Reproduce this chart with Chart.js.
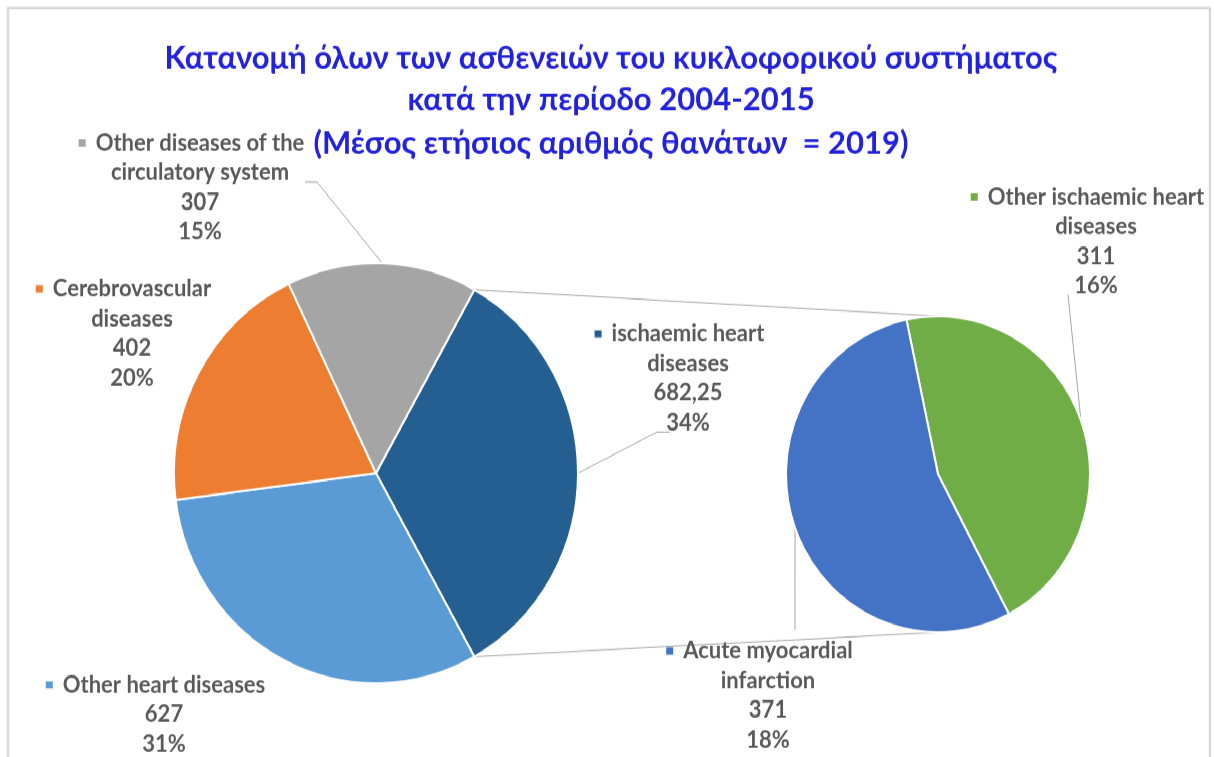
<!DOCTYPE html>
<html lang="el">
<head>
<meta charset="UTF-8">
<title>Κατανομή ασθενειών κυκλοφορικού</title>
<script src="https://cdn.jsdelivr.net/npm/chart.js"></script>
<style>
  html { overflow: hidden; }
  body { margin: 0; padding: 0; background: #fff; width: 1214px; height: 757px; }
  #page { position: relative; width: 1214px; height: 757px; overflow: hidden; }
  /* the reference is a slightly tall screenshot, so the whole drawing is stretched a little */
  #wrap { position: absolute; left: 0; top: 0; width: 1214px; height: 728px; transform: scale(1, 1.04); transform-origin: 0 0; }
  #wrap canvas { position: absolute; }
</style>
</head>
<body>
<div id="page">
<div id="wrap">
  <canvas id="frameChart" width="1214" height="728" style="left:0;top:0"></canvas>
  <canvas id="mainPie" width="406" height="406" style="left:173px;top:252px"></canvas>
  <canvas id="subPie" width="306" height="306" style="left:785px;top:303px"></canvas>
</div>
</div>
<script>
// ---- data ----
const titleLines = ['Κατανομή όλων των ασθενειών του κυκλοφορικού συστήματος', 'κατά την περίοδο 2004-2015'];
const subtitleLine = '(Μέσος ετήσιος αριθμός θανάτων  = 2019)';

const mainLabels = [['ischaemic heart', 'diseases'], ['Other heart diseases'], ['Cerebrovascular', 'diseases'], ['Other diseases of the', 'circulatory system']];
const mainValues = [682.25, 627, 402, 307];
const mainPercents = [34, 31, 20, 15];

const subLabels = [['Other ischaemic heart', 'diseases'], ['Acute myocardial', 'infarction']];
const subValues = [311, 371];
const subPercents = [16, 18];

// ---- styling ----
const mainColors = ['#255e91', '#5b9bd5', '#ed7d31', '#a5a5a5'];
const subColors = ['#70ad47', '#4472c4'];
const FONT = 'Lato, "Open Sans", sans-serif';
const TEXT_GREY = '#595959';
const LINE_GREY = '#a6a6a6';
const SY = 1.04;
const ry = y => y / SY;

// label anchors (reference pixels): centre x, first line y, leader start points
const mainLabelPos = [
  { cx: 688, y0: 334, leader: [[670, 432], [657, 432]] },
  { cx: 164, y0: 685, leader: null },
  { cx: 132, y0: 289, leader: null },
  { cx: 200, y0: 143, leader: [[305, 182], [317, 182]] }
];
const subLabelPos = [
  { cx: 1096, y0: 197, leader: [[1068, 295]] },
  { cx: 768, y0: 651, leader: [[795, 630]] }
];
const LINE_GAP = 29.7;

Chart.defaults.font.family = FONT;

function pieConfig(labels, values, colors, rotation) {
  return {
    type: 'pie',
    data: {
      labels: labels.map(l => l.join(' ')),
      datasets: [{ data: values, backgroundColor: colors, borderColor: '#ffffff', borderWidth: 2 }]
    },
    options: {
      responsive: false,
      animation: false,
      events: [],
      rotation: rotation,
      plugins: { legend: { display: false }, tooltip: { enabled: false }, title: { display: false } }
    }
  };
}

const mainTotal = mainValues.reduce((a, b) => a + b, 0);
// split slice centred on 3 o'clock
const mainRotation = 90 - (mainValues[0] / mainTotal) * 180;
const mainChart = new Chart(document.getElementById('mainPie'), pieConfig(mainLabels, mainValues, mainColors, mainRotation));
const subChart = new Chart(document.getElementById('subPie'), pieConfig(subLabels, subValues, subColors, -12));

function arcInfo(chart, idx, canvas) {
  const a = chart.getDatasetMeta(0).data[idx].getProps(['x', 'y', 'startAngle', 'endAngle', 'outerRadius'], true);
  return { x: a.x + canvas.offsetLeft, y: a.y + canvas.offsetTop, r: a.outerRadius, s: a.startAngle, e: a.endAngle };
}
function edge(info, angle) {
  return [info.x + info.r * Math.cos(angle), info.y + info.r * Math.sin(angle)];
}
function fmt(v) {
  return String(v).replace('.', ',');
}

function drawLabel(ctx, lines, color, pos, arc) {
  ctx.save();
  ctx.font = 'bold 22px ' + FONT;
  ctx.fillStyle = TEXT_GREY;
  ctx.textAlign = 'center';
  ctx.textBaseline = 'middle';
  lines.forEach((t, i) => ctx.fillText(t, pos.cx, ry(pos.y0 + i * LINE_GAP)));
  const w = ctx.measureText(lines[0]).width;
  ctx.fillStyle = color;
  ctx.fillRect(pos.cx - w / 2 - 17, ry(pos.y0) - 3.5, 7, 7);
  if (pos.leader) {
    const mid = (arc.s + arc.e) / 2;
    const end = edge(arc, mid);
    ctx.strokeStyle = LINE_GREY;
    ctx.lineWidth = 1;
    ctx.beginPath();
    pos.leader.forEach((p, i) => i === 0 ? ctx.moveTo(p[0], ry(p[1])) : ctx.lineTo(p[0], ry(p[1])));
    ctx.lineTo(end[0], end[1]);
    ctx.stroke();
  }
  ctx.restore();
}

const overlay = {
  id: 'overlay',
  afterDraw(chart) {
    const ctx = chart.ctx;
    const mainCanvas = mainChart.canvas;
    const subCanvas = subChart.canvas;

    // chart frame
    ctx.save();
    ctx.strokeStyle = '#d9d9d9';
    ctx.lineWidth = 2.5;
    ctx.beginPath();
    ctx.moveTo(8, 760);
    ctx.lineTo(8, ry(8));
    ctx.lineTo(1210, ry(8));
    ctx.lineTo(1210, 760);
    ctx.stroke();

    // connector lines between the pies
    const split = arcInfo(mainChart, 0, mainCanvas);
    const sub0 = arcInfo(subChart, 0, subCanvas);
    const a = edge(split, split.s);
    const b = edge(split, split.e);
    ctx.strokeStyle = LINE_GREY;
    ctx.lineWidth = 1;
    ctx.beginPath();
    ctx.moveTo(a[0], a[1]);
    ctx.lineTo(sub0.x, sub0.y - sub0.r);
    ctx.moveTo(b[0], b[1]);
    ctx.lineTo(sub0.x, sub0.y + sub0.r);
    ctx.stroke();
    ctx.restore();

    mainLabels.forEach((l, i) => {
      const lines = l.concat([fmt(mainValues[i]), mainPercents[i] + '%']);
      drawLabel(ctx, lines, mainColors[i], mainLabelPos[i], arcInfo(mainChart, i, mainCanvas));
    });
    subLabels.forEach((l, i) => {
      const lines = l.concat([fmt(subValues[i]), subPercents[i] + '%']);
      drawLabel(ctx, lines, subColors[i], subLabelPos[i], arcInfo(subChart, i, subCanvas));
    });
  }
};

new Chart(document.getElementById('frameChart'), {
  type: 'pie',
  data: { labels: [], datasets: [] },
  options: {
    responsive: false,
    animation: false,
    events: [],
    layout: { padding: { left: 8 } },
    plugins: {
      legend: { display: false },
      tooltip: { enabled: false },
      title: {
        display: true,
        text: titleLines,
        color: '#2222dd',
        font: { size: 31, weight: 'bold', lineHeight: 1.297 },
        padding: { top: 35.7, bottom: 0 }
      },
      subtitle: {
        display: true,
        text: subtitleLine,
        color: '#2222dd',
        font: { size: 31, weight: 'bold', lineHeight: 1.2 },
        padding: { top: 2.8, bottom: 0 }
      }
    }
  },
  plugins: [overlay]
});
</script>
</body>
</html>
